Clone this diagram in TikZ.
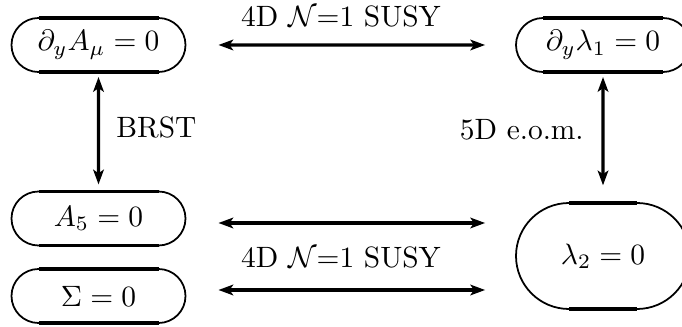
\documentclass[tikz,border=0pt]{standalone}
\usetikzlibrary{shapes.misc,arrows.meta}
\newcommand\pxu{0.34pt}
\tikzset{
  eqbox/.style={rounded rectangle, draw, line width=0.6pt, inner sep=0pt, outer sep=0pt,
    minimum width={174*\pxu}, minimum height={54*\pxu}},
  flatedge/.style={line width=1.1pt},
  conn/.style={line width=1.1pt, {Stealth[length=5pt,width=3.6pt,inset=1.2pt]}-{Stealth[length=5pt,width=3.6pt,inset=1.2pt]}},
}
\begin{document}
\begin{tikzpicture}[x=\pxu,y=-\pxu]
      \useasboundingbox (0,0) rectangle (682,327);
      \node[eqbox] (dA) at (98.5,45) {$\partial_y A_\mu = 0$};
      \node[eqbox] (dl) at (603,45) {$\partial_y \lambda_1 = 0$};
      \node[eqbox] (A5) at (98.5,218.5) {$A_5 = 0$};
      \node[eqbox] (Sig) at (98.5,296) {$\Sigma = 0$};
      \node[eqbox, minimum height={106*\pxu}] (lam) at (603,256) {$\lambda_2 = 0$};
      \foreach \n/\s in {dA/60,dl/60,A5/60,Sig/60,lam/34}{
        \draw[flatedge] ([xshift=-\s*\pxu]\n.north) -- ([xshift=\s*\pxu]\n.north);
        \draw[flatedge] ([xshift=-\s*\pxu]\n.south) -- ([xshift=\s*\pxu]\n.south);
      }
      \coordinate (lamup) at ([yshift=33*\pxu]lam.west);
      \coordinate (lamdn) at ([yshift=-34*\pxu]lam.west);
      \draw[conn, shorten <=11.2pt, shorten >=10.5pt] (dA) -- (dl);
      \draw[conn, shorten <=11.2pt, shorten >=10.5pt] (lamup -| A5.east) -- (lamup);
      \draw[conn, shorten <=11.2pt, shorten >=10.5pt] (lamdn -| Sig.east) -- (lamdn);
      \draw[conn, shorten <=1.7pt, shorten >=2.4pt] (dA) -- (A5);
      \draw[conn, shorten <=1.7pt, shorten >=6pt] (dl) -- (lam);
      \node (susytop) at (341,16) {4D $\mathcal{N}$=1 SUSY};
      \node (susymid) at (341,257) {4D $\mathcal{N}$=1 SUSY};
      \node[anchor=west] (brst) at (106,127) {BRST};
      \node[anchor=east] (eom) at (594,130) {5D e.o.m.};
\end{tikzpicture}
\end{document}
